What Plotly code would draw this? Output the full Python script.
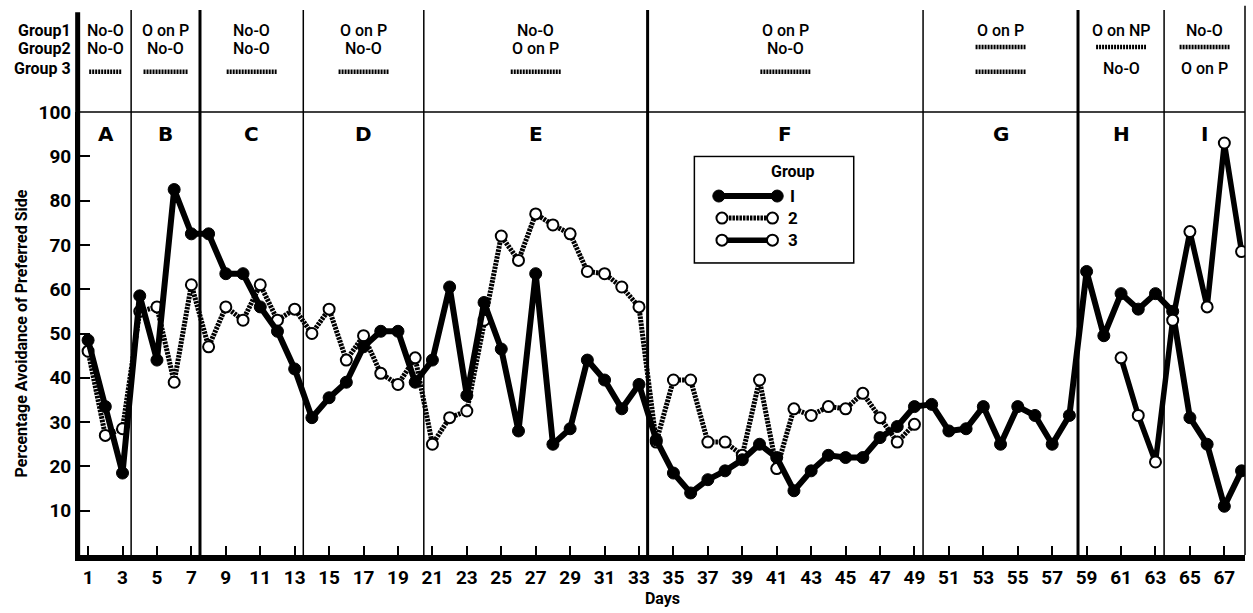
import plotly.graph_objects as go

# ---------------- data ----------------
days_g1 = list(range(1, 69))
group1 = [48.5, 33.5, 18.5, 58.5, 44, 82.5, 72.5, 72.5, 63.5, 63.5,
          56, 50.5, 42, 31, 35.5, 39, 47, 50.5, 50.5, 39,
          44, 60.5, 36, 57, 46.5, 28, 63.5, 25, 28.5, 44,
          39.5, 33, 38.5, 26, 18.5, 14, 17, 19, 21.5, 25,
          22, 14.5, 19, 22.5, 22, 22, 26.5, 29, 33.5, 34,
          28, 28.5, 33.5, 25, 33.5, 31.5, 25, 31.5, 64, 49.5,
          59, 55.5, 59, 55, 31, 25, 11, 19]

days_g2 = list(range(1, 50))
group2 = [46, 27, 28.5, 55, 56, 39, 61, 47, 56, 53,
          61, 53, 55.5, 50, 55.5, 44, 49.5, 41, 38.5, 44.5,
          25, 31, 32.5, 53, 72, 66.5, 77, 74.5, 72.5, 64,
          63.5, 60.5, 56, 25.5, 39.5, 39.5, 25.5, 25.5, 22.5, 39.5,
          19.5, 33, 31.5, 33.5, 33, 36.5, 31, 25.5, 29.5]

days_g3 = list(range(61, 69))
group3 = [44.5, 31.5, 21, 53, 73, 56, 93, 68.5]

period_letters = ["A", "B", "C", "D", "E", "F", "G", "H", "I"]
period_bounds = [0.53, 3.5, 7.5, 13.5, 20.5, 33.5, 49.5, 58.5, 63.5, 68.2]
thick_bounds = [7.5, 33.5, 58.5]
row1 = ["No-O", "O on P", "No-O", "O on P", "No-O", "O on P", "O on P", "O on NP", "No-O"]
row2 = ["No-O", "No-O", "No-O", "No-O", "O on P", "No-O", None, None, None]
row3 = [None, None, None, None, None, None, None, "No-O", "O on P"]
row_labels = ["Group1", "Group2", "Group 3"]

x_ticks = list(range(1, 68, 2))
y_ticks = list(range(10, 101, 10))

FONT = "Roboto"

XR = [0.53, 68.2]


def bf(size):
    return dict(family=FONT, size=size, color="black", weight="bold")


fig = go.Figure()

g1_line = dict(color="black", width=6)
g1_marker = dict(size=12, color="black", line=dict(color="black", width=1))
g2_line = dict(color="black", width=5, dash="2.5px,1px")
open_marker = dict(size=11, color="white", line=dict(color="black", width=2))
g3_line = dict(color="black", width=5.5)

fig.add_trace(go.Scatter(x=days_g2, y=group2, mode="lines+markers", line=g2_line,
                         marker=open_marker, name="2", showlegend=False))
fig.add_trace(go.Scatter(x=days_g1, y=group1, mode="lines+markers", line=g1_line,
                         marker=g1_marker, name="I", showlegend=False))
fig.add_trace(go.Scatter(x=days_g3, y=group3, mode="lines+markers", line=g3_line,
                         marker=open_marker, name="3", showlegend=False))

# legend samples on an overlay axis
fig.add_trace(go.Scatter(x=[0.15, 0.52], y=[0.63, 0.63], mode="lines+markers", line=g1_line,
                         marker=g1_marker, xaxis="x2", yaxis="y2", showlegend=False))
fig.add_trace(go.Scatter(x=[0.17, 0.49], y=[0.42, 0.42], mode="lines+markers", line=g2_line,
                         marker=open_marker, xaxis="x2", yaxis="y2", showlegend=False))
fig.add_trace(go.Scatter(x=[0.17, 0.49], y=[0.21, 0.21], mode="lines+markers", line=g3_line,
                         marker=open_marker, xaxis="x2", yaxis="y2", showlegend=False))

shapes = []
annotations = []

# vertical period boundary lines (plot + header)
for b in period_bounds[1:-1]:
    w = 3 if b in thick_bounds else 1.5
    shapes.append(dict(type="line", xref="x", yref="paper", x0=b, x1=b, y0=0, y1=1.23,
                       line=dict(color="black", width=w), layer="above"))
# left header border and right border
shapes.append(dict(type="line", xref="paper", yref="paper", x0=-0.002, x1=-0.002, y0=0, y1=1.225,
                   line=dict(color="black", width=5)))
shapes.append(dict(type="line", xref="paper", yref="paper", x0=1, x1=1, y0=0, y1=1.24,
                   line=dict(color="black", width=1.5)))
# top line at 100
shapes.append(dict(type="line", xref="paper", yref="paper", x0=0, x1=1, y0=1, y1=1,
                   line=dict(color="black", width=1.5)))

# header texts
row_y = [1.185, 1.143, 1.099]
for i, lab in enumerate(row_labels):
    annotations.append(dict(text=lab, xref="paper", yref="paper", x=-0.006, y=row_y[i],
                            xanchor="right", yanchor="middle", showarrow=False, font=bf(16)))

for k in range(9):
    lo, hi = period_bounds[k], period_bounds[k + 1]
    c = (lo + hi) / 2
    span = hi - lo
    dash_half = min(1.45, span * 0.32)
    for r, rows in enumerate([row1, row2, row3]):
        t = rows[k]
        if t is None:
            yy = row_y[r] - (0.008 if r == 2 else 0.0)
            if r == 1 and k >= 6:
                yy = 1.147
            shapes.append(dict(type="line", xref="x", yref="paper", x0=c - dash_half, x1=c + dash_half,
                               y0=yy, y1=yy, line=dict(color="black", width=4.5, dash="2px,1px")))
        else:
            annotations.append(dict(text=t, xref="x", yref="paper", x=c, y=row_y[r],
                                    xanchor="center", yanchor="middle", showarrow=False,
                                    font=dict(family=FONT, size=16, color="black", weight=500)))
    annotations.append(dict(text=period_letters[k], xref="x", yref="y", x=c, y=95,
                            xanchor="center", yanchor="middle", showarrow=False,
                            font=dict(family="DejaVu Sans", size=20, color="black", weight="bold")))

# legend box
shapes.append(dict(type="rect", xref="paper", yref="paper", x0=0.528, x1=0.6635, y0=0.661, y1=0.898,
                   line=dict(color="black", width=3), fillcolor="white", layer="below"))
annotations.append(dict(text="Group", xref="x2", yref="y2", x=0.62, y=0.86, showarrow=False,
                        font=bf(16)))
for lab, yy in zip(["I", "2", "3"], [0.63, 0.42, 0.21]):
    annotations.append(dict(text=lab, xref="x2", yref="y2", x=0.62, y=yy, showarrow=False,
                            font=bf(17)))

fig.update_layout(
    width=1253, height=613,
    margin=dict(l=80, r=8, t=112, b=58),
    paper_bgcolor="white", plot_bgcolor="white",
    showlegend=False,
    shapes=shapes, annotations=annotations,
    font=dict(family=FONT, color="black"),
    xaxis=dict(range=XR, tickmode="array", tickvals=x_ticks, ticktext=[str(v) for v in x_ticks],
               ticks="inside", ticklen=9, tickwidth=2, tickcolor="black",
               showline=True, linewidth=6, linecolor="black", showgrid=False, zeroline=False,
               tickfont=bf(19),
               title=dict(text="Days", font=bf(16), standoff=4)),
    yaxis=dict(range=[0, 100], tickmode="array", tickvals=y_ticks, ticktext=[str(v) for v in y_ticks],
               ticks="inside", ticklen=10, tickwidth=2, tickcolor="black",
               showline=True, linewidth=5, linecolor="black", showgrid=False, zeroline=False,
               tickfont=bf(19),
               title=dict(text="Percentage Avoidance of Preferred Side", font=bf(16), standoff=8)),
    xaxis2=dict(domain=[0.528, 0.6635], range=[0, 1], visible=False, anchor="y2"),
    yaxis2=dict(domain=[0.661, 0.898], range=[0, 1], visible=False, anchor="x2"),
)

fig.write_html("out.html")
